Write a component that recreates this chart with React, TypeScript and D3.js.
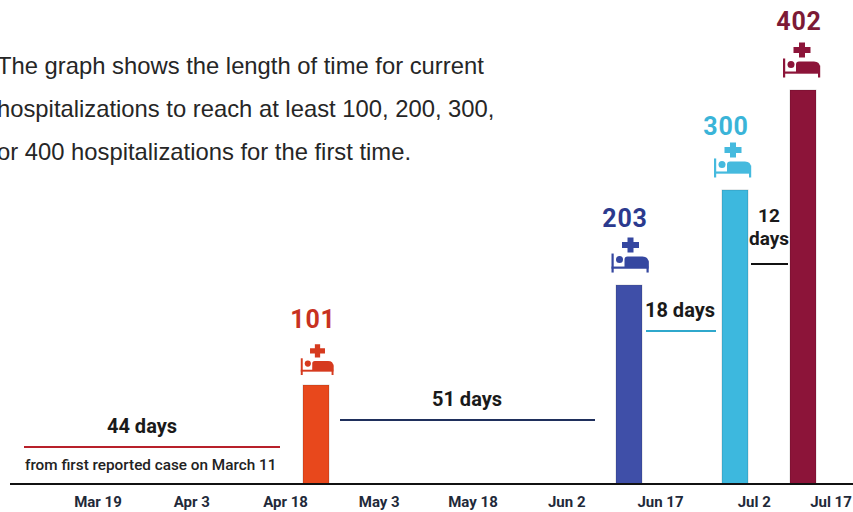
import React from "react";
import * as d3 from "d3";

const introLines = [
  "The graph shows the length of time for current",
  "hospitalizations to reach at least 100, 200, 300,",
  "or 400 hospitalizations for the first time.",
];

const tickLabels = ["Mar 19", "Apr 3", "Apr 18", "May 3", "May 18", "Jun 2", "Jun 17", "Jul 2", "Jul 17"];

// days since first reported case on March 11
const barDays = [44, 95, 113, 125];
const hospitalizations = [101, 203, 300, 402];
const barColors = ["#e8481c", "#3f4fa8", "#3db8de", "#8c1439"];
const numberColors = ["#c8321f", "#2b3a8e", "#3ab4d8", "#7c1a36"];
const iconColors = ["#d63a1e", "#3547a0", "#45bade", "#8c1439"];

const spanLabels = ["44 days", "51 days", "18 days", "12 days"];
const spanColors = ["#b8202a", "#1f2f5c", "#2fa8cc", "#111111"];

const width = 853;
const height = 512;
const baseline = 484;
const barWidth = 26;

// the labels and icons don't sit exactly centred over the bars
const numberDx = [-3, -4, -9, -4];
const numberDy = [57, 58, 55, 60];
const iconDx = [1.5, 1.5, -2, -1];

const x = d3.scaleLinear().domain([0, 44, 95, 113, 125]).range([24, 316, 629, 735, 803]);
const y = d3.scaleLinear().domain([0, 402]).range([baseline, 90]);
const tickX = d3.scalePoint<string>().domain(tickLabels).range([98, 848]);

// bed with a cross above it, drawn around (0,0) = bottom centre of the bed
const Bed = ({ color, scale }: { color: string; scale: number }) => (
  <g transform={`scale(${scale})`} fill={color}>
    <path d="M-3,-35 h6 v4.5 h5.5 v6 h-5.5 v4.5 h-6 v-4.5 h-5.5 v-6 h5.5 z" />
    <rect x={-19} y={-19} width={2.2} height={19} />
    <rect x={16} y={-12} width={2.2} height={12} />
    <rect x={-19} y={-6} width={37} height={2.2} />
    <circle cx={-11} cy={-13} r={3.5} />
    <path d="M-6,-5 v-8 q0,-3 3,-3 h15 q6,0 6,6 v5 z" />
  </g>
);

export default function App() {
  return (
    <svg
      width={width}
      height={height}
      style={{ position: "absolute", left: 0, top: 0, background: "#fff", fontFamily: "Roboto" }}
    >
      {introLines.map((line, i) => (
        <text key={line} x={-3} y={74 + i * 43} fontFamily="Liberation Sans" fontSize={23.8} fill="#262626">
          {line}
        </text>
      ))}

      {barDays.map((d, i) => {
        const cx = x(d);
        const top = y(hospitalizations[i]);
        return (
          <g key={d}>
            <rect
              x={cx - barWidth / 2}
              y={top}
              width={barWidth}
              height={baseline - top}
              fill={barColors[i]}
              stroke="#000"
              strokeOpacity={0.15}
            />
            <g transform={`translate(${cx + iconDx[i]},${top - (i === 0 ? 10 : 12.5)})`}>
              <Bed color={iconColors[i]} scale={i === 0 ? 0.88 : 1} />
            </g>
            <text
              x={cx + numberDx[i]}
              y={top - numberDy[i]}
              textAnchor="middle"
              fontSize={25}
              fontWeight={700}
              letterSpacing={0.8}
              fill={numberColors[i]}
            >
              {hospitalizations[i]}
            </text>
          </g>
        );
      })}

      {/* first span */}
      <line x1={x(0)} x2={x(44) - 36} y1={447} y2={447} stroke={spanColors[0]} strokeWidth={2} />
      <text x={142} y={433} textAnchor="middle" fontSize={20} fontWeight={700} fill="#1a1a1a">
        {spanLabels[0]}
      </text>
      <text x={25} y={470} fontSize={15.3} fontWeight={500} fill="#222">
        from first reported case on March 11
      </text>

      {/* second span */}
      <line x1={x(44) + 24} x2={x(95) - 34} y1={420} y2={420} stroke={spanColors[1]} strokeWidth={2} />
      <text x={467} y={406} textAnchor="middle" fontSize={20} fontWeight={700} fill="#1a1a1a">
        {spanLabels[1]}
      </text>

      {/* third span */}
      <line x1={x(95) + 17} x2={x(113) - 19} y1={331} y2={331} stroke={spanColors[2]} strokeWidth={2} />
      <text x={680} y={317} textAnchor="middle" fontSize={20} fontWeight={700} fill="#1a1a1a">
        {spanLabels[2]}
      </text>

      {/* fourth span, label wrapped over two lines */}
      <line x1={x(113) + 16} x2={x(125) - 15} y1={264} y2={264} stroke={spanColors[3]} strokeWidth={2} />
      {spanLabels[3].split(" ").map((word, i) => (
        <text key={word} x={769} y={222 + i * 23} textAnchor="middle" fontSize={19} fontWeight={700} fill="#1a1a1a">
          {word}
        </text>
      ))}

      <line x1={10} x2={width} y1={baseline} y2={baseline} stroke="#111" strokeWidth={2} />

      {tickLabels.map((label) => (
        <text
          key={label}
          x={Math.min(tickX(label) as number, 831)}
          y={507}
          textAnchor="middle"
          fontSize={15}
          fontWeight={700}
          fill="#1f2a3a"
        >
          {label}
        </text>
      ))}
    </svg>
  );
}
